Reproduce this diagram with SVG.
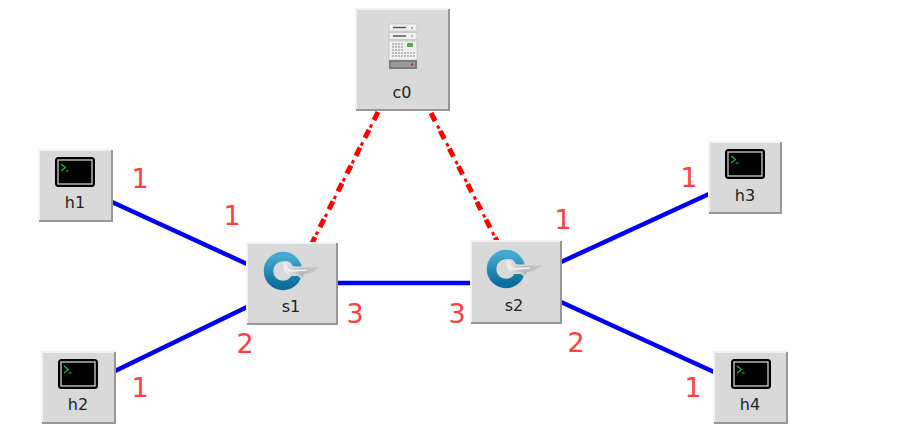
<svg xmlns="http://www.w3.org/2000/svg" width="898" height="439" viewBox="0 0 898 439">
<defs>
<linearGradient id="ring" x1="0" y1="0" x2="0" y2="1"><stop offset="0" stop-color="#45a9d0"/><stop offset="1" stop-color="#0c6d9c"/></linearGradient>
<linearGradient id="arrow" x1="0" y1="0" x2="1" y2="0"><stop offset="0" stop-color="#f0f0f0"/><stop offset="0.5" stop-color="#b4b8ba"/><stop offset="1" stop-color="#c8cacb"/></linearGradient>
<g id="term">
<rect x="0" y="0" width="40" height="30" rx="3.500" fill="#000"/>
<rect x="3" y="3" width="34" height="24" fill="#020202" stroke="#d0d0d0" stroke-width="1.300"/>
<path d="M6 7l4.500 3.500-4.500 3.500" fill="none" stroke="#1eb83a" stroke-width="1.200"/>
<path d="M11 14h2.500" stroke="#1eb83a" stroke-width="1.200"/>
</g>
<g id="sw">
<circle cx="0" cy="0" r="14.500" fill="none" stroke="url(#ring)" stroke-width="9.500"/>
<path d="M0 -8 Q6 -10 8 -5 Q9 -3 14 -3 L37 -4 Q29 3 21 3 L20 7 L15 3 Q4 5 1 0Z" fill="#d9d9d9" stroke="#d9d9d9" stroke-width="3"/>
<path d="M0 -8 Q6 -10 8 -5 Q9 -3 14 -3 L37 -4 Q29 3 21 3 L20 7 L15 3 Q4 5 1 0Z" fill="url(#arrow)"/>
<path d="M3 -5 Q3 -1 8 0 L24 -1" fill="none" stroke="#f4f4f4" stroke-width="1.500"/>
</g>
</defs>
<style>
.box{fill:#d9d9d9;stroke:none}
.hi{fill:none;stroke:#f2f2f2;stroke-width:2}
.lo{fill:none;stroke:#979797;stroke-width:2}
.lbl{font-family:"DejaVu Sans",sans-serif;font-size:16px;fill:#222;text-anchor:middle}
.num{font-family:"DejaVu Sans",sans-serif;font-size:27px;fill:#ff4040;text-anchor:middle}
.data{stroke:#0000f0;stroke-width:4.500;fill:none}
.big{stroke:#ff0000;stroke-width:5;fill:none;stroke-dasharray:9 11}
.small{stroke:#ff0000;stroke-width:3;fill:none;stroke-dasharray:3.500 16.500;stroke-dashoffset:-14}
</style>
<rect width="898" height="439" fill="#fff"/>
<g id="connectors">
<line class="data" x1="112" y1="202" x2="247" y2="264"/>
<line class="data" x1="115" y1="371" x2="247" y2="307"/>
<line class="data" x1="337" y1="283" x2="471" y2="283"/>
<line class="data" x1="561" y1="262" x2="709" y2="194"/>
<line class="data" x1="561" y1="302" x2="714" y2="372"/>
<line class="big" x1="378" y1="112" x2="312" y2="243"/>
<line class="small" x1="378" y1="112" x2="312" y2="243"/>
<line class="big" x1="431" y1="113" x2="497" y2="241"/>
<line class="small" x1="431" y1="113" x2="497" y2="241"/>
</g>
<g id="c0">
<rect class="box" x="356" y="9" width="93" height="101"/>
<path class="hi" d="M356 110V9H449"/><path class="lo" d="M449 9V110H356"/>
<rect x="389" y="24" width="28" height="7" fill="#f0f0f0" stroke="#b8b8b8" stroke-width="0.600"/>
<rect x="389" y="32.500" width="28" height="7" fill="#f0f0f0" stroke="#b8b8b8" stroke-width="0.600"/>
<rect x="389" y="41" width="28" height="19" fill="#f0f0f0" stroke="#b8b8b8" stroke-width="0.600"/>
<rect x="389" y="60" width="28" height="9" fill="#7c7c7c"/>
<rect x="391" y="62" width="24" height="5" fill="#9a9a9a"/>
<path d="M393 27.500h13M393 36h13" stroke="#555" stroke-width="1.400"/>
<circle cx="412" cy="28" r="1" fill="#e66"/><circle cx="412" cy="36" r="1" fill="#7c7"/>
<path d="M392 44h11M392 47h11M392 50h11M392 53h23M392 56h23" stroke="#a8a8a8" stroke-width="1.600" stroke-dasharray="2 1"/>
<rect x="407" y="43" width="6" height="4" fill="#5fa35f"/>
<circle cx="412" cy="64.500" r="1.200" fill="#a33"/>
<text class="lbl" x="402" y="98">c0</text>
</g>
<g id="h1">
<rect class="box" x="39" y="150" width="73" height="71"/>
<path class="hi" d="M39 221V150H112"/><path class="lo" d="M112 150V221H39"/>
<use href="#term" x="55" y="157"/>
<text class="lbl" x="75" y="208">h1</text>
</g>
<g id="h2">
<rect class="box" x="42" y="352" width="73" height="71"/>
<path class="hi" d="M42 423V352H115"/><path class="lo" d="M115 352V423H42"/>
<use href="#term" x="58" y="359"/>
<text class="lbl" x="78" y="410">h2</text>
</g>
<g id="h3">
<rect class="box" x="709" y="142" width="72" height="71"/>
<path class="hi" d="M709 213V142H781"/><path class="lo" d="M781 142V213H709"/>
<use href="#term" x="725" y="149"/>
<text class="lbl" x="745" y="201">h3</text>
</g>
<g id="h4">
<rect class="box" x="714" y="352" width="73" height="71"/>
<path class="hi" d="M714 423V352H787"/><path class="lo" d="M787 352V423H714"/>
<use href="#term" x="731" y="359"/>
<text class="lbl" x="750" y="410">h4</text>
</g>
<g id="s1">
<rect class="box" x="247" y="243" width="90" height="81"/>
<path class="hi" d="M247 324V243H337"/><path class="lo" d="M337 243V324H247"/>
<use href="#sw" x="283" y="271"/>
<text class="lbl" x="291" y="312">s1</text>
</g>
<g id="s2">
<rect class="box" x="471" y="241" width="90" height="82"/>
<path class="hi" d="M471 323V241H561"/><path class="lo" d="M561 241V323H471"/>
<use href="#sw" x="506" y="269"/>
<text class="lbl" x="514" y="311">s2</text>
</g>
<g id="labels">
<text class="num" x="140" y="188">1</text>
<text class="num" x="232" y="225">1</text>
<text class="num" x="245" y="353">2</text>
<text class="num" x="140" y="397">1</text>
<text class="num" x="355" y="323">3</text>
<text class="num" x="457" y="323">3</text>
<text class="num" x="563" y="229">1</text>
<text class="num" x="689" y="187">1</text>
<text class="num" x="576" y="352">2</text>
<text class="num" x="693" y="397">1</text>
</g>
</svg>
